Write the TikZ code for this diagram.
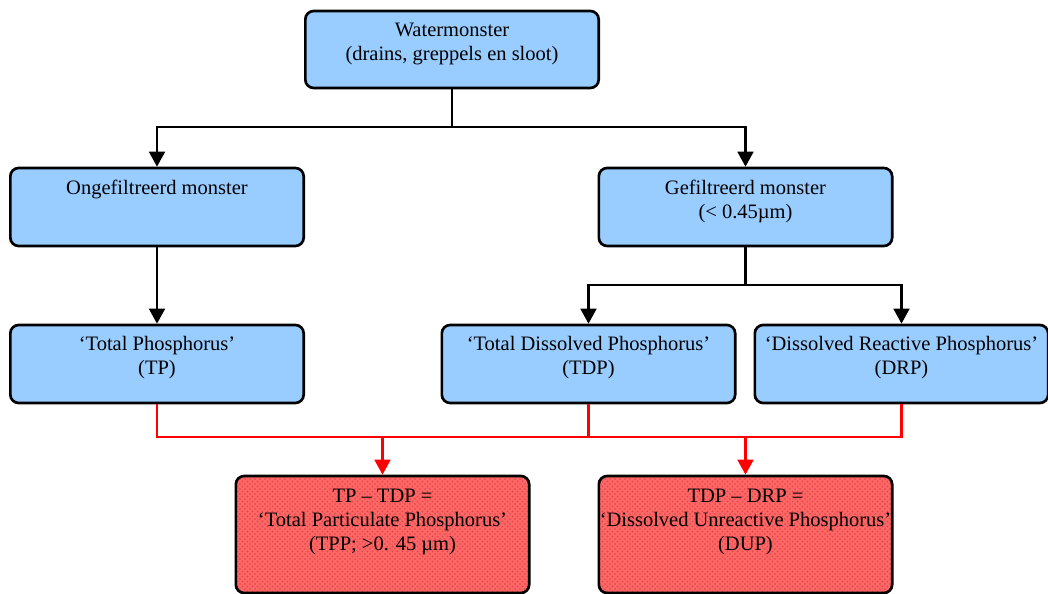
\documentclass[tikz,border=0pt]{standalone}
\usepackage{fontspec}
\setmainfont{Liberation Serif}
\usetikzlibrary{arrows.meta,patterns}
\definecolor{phblue}{HTML}{99CCFF}
\definecolor{phred}{HTML}{FF6666}
\definecolor{phdot}{HTML}{D94444}
\newcommand{\boxtext}[3]{\parbox[c][#1][t]{176pt}{\vspace*{#2}\centering #3}}
\tikzset{
  phbox/.style={draw, line width=1.6pt, rounded corners=5pt, fill=phblue, inner sep=0pt,
    font=\fontsize{12.3}{14.4}\selectfont},
  redbox/.style={phbox, fill=none, preaction={fill=phred}, pattern=crosshatch dots, pattern color=phdot},
  conn/.style={line width=1.4pt},
  arr/.style={conn, -{Triangle[length=9pt,width=9.5pt]}},
}
\begin{document}
\begin{tikzpicture}[x=0.6pt, y=-0.6pt]
\useasboundingbox (0, 0) rectangle (1048, 594);
%Boxes
\draw (452, 49.5) node (water) [phbox] {\boxtext{46.2pt}{7.5pt}{Watermonster\\(drains, greppels en sloot)}};
\draw (157, 207) node (unfilt) [phbox] {\boxtext{46.8pt}{7pt}{Ongefiltreerd monster}};
\draw (745.5, 207) node (filt) [phbox] {\boxtext{46.8pt}{7pt}{Gefiltreerd monster\\(< 0.45µm)}};
\draw (157, 364) node (tp) [phbox] {\boxtext{46.8pt}{7pt}{`Total Phosphorus'\\(TP)}};
\draw (588.5, 364) node (tdp) [phbox] {\boxtext{46.8pt}{7pt}{`Total Dissolved Phosphorus'\\(TDP)}};
\draw (901.5, 364) node (drp) [phbox] {\boxtext{46.8pt}{7pt}{`Dissolved Reactive Phosphorus'\\(DRP)}};
\draw (382.5, 534.5) node (tpp) [redbox] {\boxtext{70.2pt}{8pt}{TP -- TDP =\\`Total Particulate Phosphorus'\\(TPP; >0. 45 µm)}};
\draw (745.5, 534.5) node (dup) [redbox] {\boxtext{70.2pt}{8pt}{TDP -- DRP =\\`Dissolved Unreactive Phosphorus'\\(DUP)}};
%Black connectors
\coordinate (split1) at (452, 127);
\coordinate (split2) at (745.5, 285);
\draw[conn] (water.south) -- (split1);
\draw[arr] (split1) -| (unfilt.north);
\draw[arr] (split1) -| (filt.north);
\draw[arr] (unfilt.south) -- (tp.north);
\draw[conn] (filt.south) -- (split2);
\draw[arr] (split2) -| (tdp.north);
\draw[arr] (split2) -| (drp.north);
%Red connectors
\coordinate (rbar) at (0, 437);
\draw[conn, red] (tp.south) -- (tp.south |- rbar) -- (drp.south |- rbar) -- (drp.south);
\draw[conn, red] (tdp.south) -- (tdp.south |- rbar);
\draw[arr, red] (tpp.north |- rbar) -- (tpp.north);
\draw[arr, red] (dup.north |- rbar) -- (dup.north);
\end{tikzpicture}
\end{document}
